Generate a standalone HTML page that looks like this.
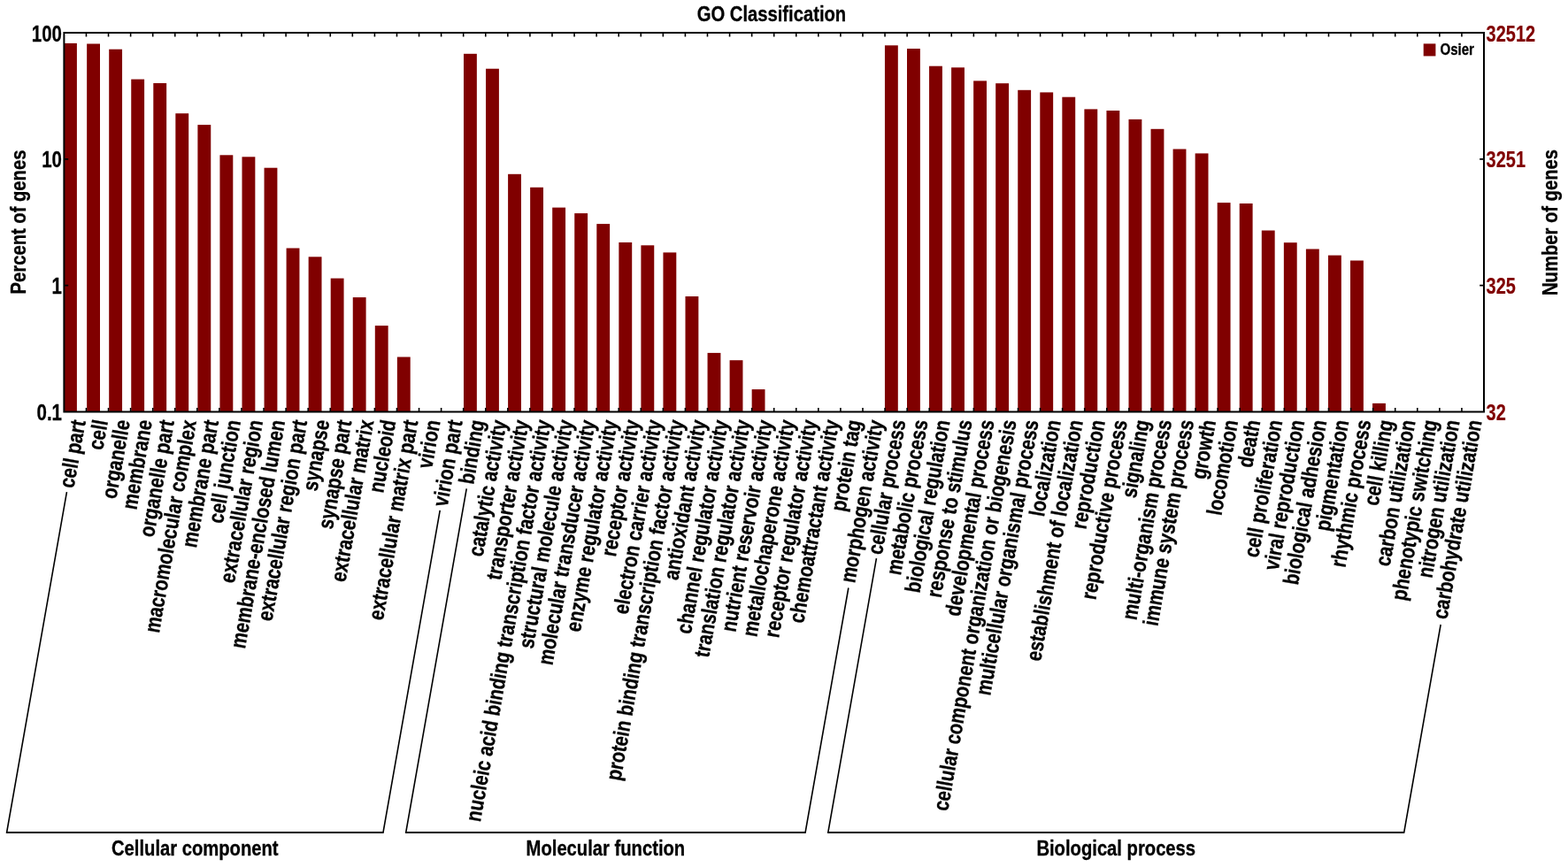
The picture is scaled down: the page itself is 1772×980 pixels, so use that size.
<!DOCTYPE html>
<html lang="en"><head><meta charset="utf-8"><title>GO Classification</title>
<style>
html,body{margin:0;padding:0;background:#fff;}
body{width:1772px;height:980px;overflow:hidden;}
svg{display:block;}
text{font-family:"Liberation Sans",sans-serif;font-weight:bold;fill:#000;}
.r{font-weight:normal;}
.i{font-style:italic;}
.m{fill:#800000;}
.ln{stroke:#000;fill:none;}
</style></head><body>
<svg width="1772" height="980" viewBox="0 0 1772 980">
<rect x="0" y="0" width="1772" height="980" fill="#fff"/>
<g fill="#800000">
<rect x="72.40" y="48.90" width="14.50" height="416.60"/>
<rect x="98.15" y="49.50" width="14.85" height="416.00"/>
<rect x="123.20" y="55.70" width="14.85" height="409.80"/>
<rect x="148.25" y="89.60" width="14.85" height="375.90"/>
<rect x="173.30" y="94.00" width="14.85" height="371.50"/>
<rect x="198.35" y="128.20" width="14.85" height="337.30"/>
<rect x="223.40" y="141.10" width="14.85" height="324.40"/>
<rect x="248.45" y="175.30" width="14.85" height="290.20"/>
<rect x="273.50" y="177.30" width="14.85" height="288.20"/>
<rect x="298.55" y="189.70" width="14.85" height="275.80"/>
<rect x="323.60" y="280.50" width="14.85" height="185.00"/>
<rect x="348.65" y="290.30" width="14.85" height="175.20"/>
<rect x="373.70" y="314.60" width="14.85" height="150.90"/>
<rect x="398.75" y="336.10" width="14.85" height="129.40"/>
<rect x="423.80" y="368.10" width="14.85" height="97.40"/>
<rect x="448.85" y="403.50" width="14.85" height="62.00"/>
<rect x="524.00" y="60.80" width="14.85" height="404.70"/>
<rect x="549.05" y="77.70" width="14.85" height="387.80"/>
<rect x="574.10" y="196.80" width="14.85" height="268.70"/>
<rect x="599.15" y="211.80" width="14.85" height="253.70"/>
<rect x="624.20" y="234.60" width="14.85" height="230.90"/>
<rect x="649.25" y="241.10" width="14.85" height="224.40"/>
<rect x="674.30" y="253.10" width="14.85" height="212.40"/>
<rect x="699.35" y="274.00" width="14.85" height="191.50"/>
<rect x="724.40" y="277.30" width="14.85" height="188.20"/>
<rect x="749.45" y="285.40" width="14.85" height="180.10"/>
<rect x="774.50" y="335.00" width="14.85" height="130.50"/>
<rect x="799.55" y="398.90" width="14.85" height="66.60"/>
<rect x="824.60" y="407.20" width="14.85" height="58.30"/>
<rect x="849.65" y="440.10" width="14.85" height="25.40"/>
<rect x="999.95" y="51.30" width="14.85" height="414.20"/>
<rect x="1025.00" y="55.00" width="14.85" height="410.50"/>
<rect x="1050.05" y="74.70" width="14.85" height="390.80"/>
<rect x="1075.10" y="76.30" width="14.85" height="389.20"/>
<rect x="1100.15" y="91.40" width="14.85" height="374.10"/>
<rect x="1125.20" y="94.20" width="14.85" height="371.30"/>
<rect x="1150.25" y="101.80" width="14.85" height="363.70"/>
<rect x="1175.30" y="104.40" width="14.85" height="361.10"/>
<rect x="1200.35" y="109.70" width="14.85" height="355.80"/>
<rect x="1225.40" y="123.40" width="14.85" height="342.10"/>
<rect x="1250.45" y="125.00" width="14.85" height="340.50"/>
<rect x="1275.50" y="134.90" width="14.85" height="330.60"/>
<rect x="1300.55" y="145.80" width="14.85" height="319.70"/>
<rect x="1325.60" y="168.50" width="14.85" height="297.00"/>
<rect x="1350.65" y="173.40" width="14.85" height="292.10"/>
<rect x="1375.70" y="229.10" width="14.85" height="236.40"/>
<rect x="1400.75" y="230.00" width="14.85" height="235.50"/>
<rect x="1425.80" y="260.50" width="14.85" height="205.00"/>
<rect x="1450.85" y="274.20" width="14.85" height="191.30"/>
<rect x="1475.90" y="281.50" width="14.85" height="184.00"/>
<rect x="1500.95" y="288.60" width="14.85" height="176.90"/>
<rect x="1526.00" y="294.50" width="14.85" height="171.00"/>
<rect x="1551.05" y="455.90" width="14.85" height="9.60"/>
</g>
<path class="ln" stroke-width="1.6" d="M97.47 37.00v4.6M97.47 465.50v-4.6M122.54 37.00v4.6M122.54 465.50v-4.6M147.62 37.00v4.6M147.62 465.50v-4.6M172.69 37.00v4.6M172.69 465.50v-4.6M197.76 37.00v4.6M197.76 465.50v-4.6M222.83 37.00v4.6M222.83 465.50v-4.6M247.90 37.00v4.6M247.90 465.50v-4.6M272.98 37.00v4.6M272.98 465.50v-4.6M298.05 37.00v4.6M298.05 465.50v-4.6M323.12 37.00v4.6M323.12 465.50v-4.6M348.19 37.00v4.6M348.19 465.50v-4.6M373.26 37.00v4.6M373.26 465.50v-4.6M398.33 37.00v4.6M398.33 465.50v-4.6M423.41 37.00v4.6M423.41 465.50v-4.6M448.48 37.00v4.6M448.48 465.50v-4.6M473.55 37.00v4.6M473.55 465.50v-4.6M498.62 37.00v4.6M498.62 465.50v-4.6M523.69 37.00v4.6M523.69 465.50v-4.6M548.77 37.00v4.6M548.77 465.50v-4.6M573.84 37.00v4.6M573.84 465.50v-4.6M598.91 37.00v4.6M598.91 465.50v-4.6M623.98 37.00v4.6M623.98 465.50v-4.6M649.05 37.00v4.6M649.05 465.50v-4.6M674.12 37.00v4.6M674.12 465.50v-4.6M699.20 37.00v4.6M699.20 465.50v-4.6M724.27 37.00v4.6M724.27 465.50v-4.6M749.34 37.00v4.6M749.34 465.50v-4.6M774.41 37.00v4.6M774.41 465.50v-4.6M799.48 37.00v4.6M799.48 465.50v-4.6M824.56 37.00v4.6M824.56 465.50v-4.6M849.63 37.00v4.6M849.63 465.50v-4.6M874.70 37.00v4.6M874.70 465.50v-4.6M899.77 37.00v4.6M899.77 465.50v-4.6M924.84 37.00v4.6M924.84 465.50v-4.6M949.92 37.00v4.6M949.92 465.50v-4.6M974.99 37.00v4.6M974.99 465.50v-4.6M1000.06 37.00v4.6M1000.06 465.50v-4.6M1025.13 37.00v4.6M1025.13 465.50v-4.6M1050.20 37.00v4.6M1050.20 465.50v-4.6M1075.28 37.00v4.6M1075.28 465.50v-4.6M1100.35 37.00v4.6M1100.35 465.50v-4.6M1125.42 37.00v4.6M1125.42 465.50v-4.6M1150.49 37.00v4.6M1150.49 465.50v-4.6M1175.56 37.00v4.6M1175.56 465.50v-4.6M1200.63 37.00v4.6M1200.63 465.50v-4.6M1225.71 37.00v4.6M1225.71 465.50v-4.6M1250.78 37.00v4.6M1250.78 465.50v-4.6M1275.85 37.00v4.6M1275.85 465.50v-4.6M1300.92 37.00v4.6M1300.92 465.50v-4.6M1325.99 37.00v4.6M1325.99 465.50v-4.6M1351.07 37.00v4.6M1351.07 465.50v-4.6M1376.14 37.00v4.6M1376.14 465.50v-4.6M1401.21 37.00v4.6M1401.21 465.50v-4.6M1426.28 37.00v4.6M1426.28 465.50v-4.6M1451.35 37.00v4.6M1451.35 465.50v-4.6M1476.42 37.00v4.6M1476.42 465.50v-4.6M1501.50 37.00v4.6M1501.50 465.50v-4.6M1526.57 37.00v4.6M1526.57 465.50v-4.6M1551.64 37.00v4.6M1551.64 465.50v-4.6M1576.71 37.00v4.6M1576.71 465.50v-4.6M1601.78 37.00v4.6M1601.78 465.50v-4.6M1626.86 37.00v4.6M1626.86 465.50v-4.6M1651.93 37.00v4.6M1651.93 465.50v-4.6M72.40 179.83h4.8M1677.00 179.83h-4.8M72.40 322.67h4.8M1677.00 322.67h-4.8"/>
<rect class="ln" x="72.40" y="37.00" width="1604.60" height="428.50" stroke-width="2"/>
<text transform="translate(872.00 24.00) scale(0.822 1)" font-size="24.6" text-anchor="middle" stroke="#000" stroke-width="0.35" stroke-linejoin="round">GO Classification</text>
<text transform="translate(70.00 47.10) scale(0.8 1)" font-size="25.6" text-anchor="end" class="e" stroke="#000" stroke-width="0.3" stroke-linejoin="round">100</text>
<text transform="translate(70.00 189.40) scale(0.8 1)" font-size="25.6" text-anchor="end" class="e" stroke="#000" stroke-width="0.3" stroke-linejoin="round">10</text>
<text transform="translate(70.00 331.80) scale(0.8 1)" font-size="25.6" text-anchor="end" class="e" stroke="#000" stroke-width="0.3" stroke-linejoin="round">1</text>
<text transform="translate(70.00 474.60) scale(0.8 1)" font-size="25.6" text-anchor="end" class="e" stroke="#000" stroke-width="0.3" stroke-linejoin="round">0.1</text>
<text transform="translate(1679.60 47.00) scale(0.78 1)" font-size="25.6" text-anchor="start" class="f m" stroke="#800000" stroke-width="0.2" stroke-linejoin="round">32512</text>
<text transform="translate(1679.60 189.10) scale(0.78 1)" font-size="25.6" text-anchor="start" class="f m" stroke="#800000" stroke-width="0.2" stroke-linejoin="round">3251</text>
<text transform="translate(1679.60 332.00) scale(0.78 1)" font-size="25.6" text-anchor="start" class="f m" stroke="#800000" stroke-width="0.2" stroke-linejoin="round">325</text>
<text transform="translate(1679.60 475.00) scale(0.78 1)" font-size="25.6" text-anchor="start" class="f m" stroke="#800000" stroke-width="0.2" stroke-linejoin="round">32</text>
<text transform="translate(29.30 251.00) rotate(-90) scale(0.822 1)" font-size="24.6" text-anchor="middle" stroke="#000" stroke-width="0.35" stroke-linejoin="round">Percent of genes</text>
<text transform="translate(1759.60 251.50) rotate(-90) scale(0.822 1)" font-size="24.6" text-anchor="middle" stroke="#000" stroke-width="0.35" stroke-linejoin="round">Number of genes</text>
<rect x="1608.7" y="49.4" width="13.7" height="14" fill="#800000"/>
<text transform="translate(1627.50 62.00) scale(0.822 1)" font-size="18.3" text-anchor="start" stroke="#000" stroke-width="0.35" stroke-linejoin="round">Osier</text>
<text transform="translate(96.83 476.30) rotate(-80) scale(0.822 1)" font-size="24.6" text-anchor="end" stroke="#000" stroke-width="0.35" stroke-linejoin="round">cell part</text>
<text transform="translate(121.88 476.30) rotate(-80) scale(0.822 1)" font-size="24.6" text-anchor="end" stroke="#000" stroke-width="0.35" stroke-linejoin="round">cell</text>
<text transform="translate(146.93 476.30) rotate(-80) scale(0.822 1)" font-size="24.6" text-anchor="end" stroke="#000" stroke-width="0.35" stroke-linejoin="round">organelle</text>
<text transform="translate(171.97 476.30) rotate(-80) scale(0.822 1)" font-size="24.6" text-anchor="end" stroke="#000" stroke-width="0.35" stroke-linejoin="round">membrane</text>
<text transform="translate(197.02 476.30) rotate(-80) scale(0.822 1)" font-size="24.6" text-anchor="end" stroke="#000" stroke-width="0.35" stroke-linejoin="round">organelle part</text>
<text transform="translate(222.06 476.30) rotate(-80) scale(0.822 1)" font-size="24.6" text-anchor="end" stroke="#000" stroke-width="0.35" stroke-linejoin="round">macromolecular complex</text>
<text transform="translate(247.11 476.30) rotate(-80) scale(0.822 1)" font-size="24.6" text-anchor="end" stroke="#000" stroke-width="0.35" stroke-linejoin="round">membrane part</text>
<text transform="translate(272.16 476.30) rotate(-80) scale(0.822 1)" font-size="24.6" text-anchor="end" stroke="#000" stroke-width="0.35" stroke-linejoin="round">cell junction</text>
<text transform="translate(297.20 476.30) rotate(-80) scale(0.822 1)" font-size="24.6" text-anchor="end" stroke="#000" stroke-width="0.35" stroke-linejoin="round">extracellular region</text>
<text transform="translate(322.25 476.30) rotate(-80) scale(0.822 1)" font-size="24.6" text-anchor="end" stroke="#000" stroke-width="0.35" stroke-linejoin="round">membrane-enclosed lumen</text>
<text transform="translate(347.29 476.30) rotate(-80) scale(0.822 1)" font-size="24.6" text-anchor="end" stroke="#000" stroke-width="0.35" stroke-linejoin="round">extracellular region part</text>
<text transform="translate(372.34 476.30) rotate(-80) scale(0.822 1)" font-size="24.6" text-anchor="end" stroke="#000" stroke-width="0.35" stroke-linejoin="round">synapse</text>
<text transform="translate(397.39 476.30) rotate(-80) scale(0.822 1)" font-size="24.6" text-anchor="end" stroke="#000" stroke-width="0.35" stroke-linejoin="round">synapse part</text>
<text transform="translate(422.43 476.30) rotate(-80) scale(0.822 1)" font-size="24.6" text-anchor="end" stroke="#000" stroke-width="0.35" stroke-linejoin="round">extracellular matrix</text>
<text transform="translate(447.48 476.30) rotate(-80) scale(0.822 1)" font-size="24.6" text-anchor="end" stroke="#000" stroke-width="0.35" stroke-linejoin="round">nucleoid</text>
<text transform="translate(472.52 476.30) rotate(-80) scale(0.822 1)" font-size="24.6" text-anchor="end" stroke="#000" stroke-width="0.35" stroke-linejoin="round">extracellular matrix part</text>
<text transform="translate(497.57 476.30) rotate(-80) scale(0.822 1)" font-size="24.6" text-anchor="end" stroke="#000" stroke-width="0.35" stroke-linejoin="round">virion</text>
<text transform="translate(522.62 476.30) rotate(-80) scale(0.822 1)" font-size="24.6" text-anchor="end" stroke="#000" stroke-width="0.35" stroke-linejoin="round">virion part</text>
<text transform="translate(547.66 476.30) rotate(-80) scale(0.822 1)" font-size="24.6" text-anchor="end" stroke="#000" stroke-width="0.35" stroke-linejoin="round">binding</text>
<text transform="translate(572.71 476.30) rotate(-80) scale(0.822 1)" font-size="24.6" text-anchor="end" stroke="#000" stroke-width="0.35" stroke-linejoin="round">catalytic activity</text>
<text transform="translate(597.75 476.30) rotate(-80) scale(0.822 1)" font-size="24.6" text-anchor="end" stroke="#000" stroke-width="0.35" stroke-linejoin="round">transporter activity</text>
<text transform="translate(622.80 476.30) rotate(-80) scale(0.822 1)" font-size="24.6" text-anchor="end" stroke="#000" stroke-width="0.35" stroke-linejoin="round">nucleic acid binding transcription factor activity</text>
<text transform="translate(647.85 476.30) rotate(-80) scale(0.822 1)" font-size="24.6" text-anchor="end" stroke="#000" stroke-width="0.35" stroke-linejoin="round">structural molecule activity</text>
<text transform="translate(672.89 476.30) rotate(-80) scale(0.822 1)" font-size="24.6" text-anchor="end" stroke="#000" stroke-width="0.35" stroke-linejoin="round">molecular transducer activity</text>
<text transform="translate(697.94 476.30) rotate(-80) scale(0.822 1)" font-size="24.6" text-anchor="end" stroke="#000" stroke-width="0.35" stroke-linejoin="round">enzyme regulator activity</text>
<text transform="translate(722.98 476.30) rotate(-80) scale(0.822 1)" font-size="24.6" text-anchor="end" stroke="#000" stroke-width="0.35" stroke-linejoin="round">receptor activity</text>
<text transform="translate(748.03 476.30) rotate(-80) scale(0.822 1)" font-size="24.6" text-anchor="end" stroke="#000" stroke-width="0.35" stroke-linejoin="round">electron carrier activity</text>
<text transform="translate(773.08 476.30) rotate(-80) scale(0.822 1)" font-size="24.6" text-anchor="end" stroke="#000" stroke-width="0.35" stroke-linejoin="round">protein binding transcription factor activity</text>
<text transform="translate(798.12 476.30) rotate(-80) scale(0.822 1)" font-size="24.6" text-anchor="end" stroke="#000" stroke-width="0.35" stroke-linejoin="round">antioxidant activity</text>
<text transform="translate(823.17 476.30) rotate(-80) scale(0.822 1)" font-size="24.6" text-anchor="end" stroke="#000" stroke-width="0.35" stroke-linejoin="round">channel regulator activity</text>
<text transform="translate(848.21 476.30) rotate(-80) scale(0.822 1)" font-size="24.6" text-anchor="end" stroke="#000" stroke-width="0.35" stroke-linejoin="round">translation regulator activity</text>
<text transform="translate(873.26 476.30) rotate(-80) scale(0.822 1)" font-size="24.6" text-anchor="end" stroke="#000" stroke-width="0.35" stroke-linejoin="round">nutrient reservoir activity</text>
<text transform="translate(898.31 476.30) rotate(-80) scale(0.822 1)" font-size="24.6" text-anchor="end" stroke="#000" stroke-width="0.35" stroke-linejoin="round">metallochaperone activity</text>
<text transform="translate(923.35 476.30) rotate(-80) scale(0.822 1)" font-size="24.6" text-anchor="end" stroke="#000" stroke-width="0.35" stroke-linejoin="round">receptor regulator activity</text>
<text transform="translate(948.40 476.30) rotate(-80) scale(0.822 1)" font-size="24.6" text-anchor="end" stroke="#000" stroke-width="0.35" stroke-linejoin="round">chemoattractant activity</text>
<text transform="translate(973.44 476.30) rotate(-80) scale(0.822 1)" font-size="24.6" text-anchor="end" stroke="#000" stroke-width="0.35" stroke-linejoin="round">protein tag</text>
<text transform="translate(998.49 476.30) rotate(-80) scale(0.822 1)" font-size="24.6" text-anchor="end" stroke="#000" stroke-width="0.35" stroke-linejoin="round">morphogen activity</text>
<text transform="translate(1023.54 476.30) rotate(-80) scale(0.822 1)" font-size="24.6" text-anchor="end" stroke="#000" stroke-width="0.35" stroke-linejoin="round">cellular process</text>
<text transform="translate(1048.58 476.30) rotate(-80) scale(0.822 1)" font-size="24.6" text-anchor="end" stroke="#000" stroke-width="0.35" stroke-linejoin="round">metabolic process</text>
<text transform="translate(1073.63 476.30) rotate(-80) scale(0.822 1)" font-size="24.6" text-anchor="end" stroke="#000" stroke-width="0.35" stroke-linejoin="round">biological regulation</text>
<text transform="translate(1098.67 476.30) rotate(-80) scale(0.822 1)" font-size="24.6" text-anchor="end" stroke="#000" stroke-width="0.35" stroke-linejoin="round">response to stimulus</text>
<text transform="translate(1123.72 476.30) rotate(-80) scale(0.822 1)" font-size="24.6" text-anchor="end" stroke="#000" stroke-width="0.35" stroke-linejoin="round">developmental process</text>
<text transform="translate(1148.77 476.30) rotate(-80) scale(0.822 1)" font-size="24.6" text-anchor="end" stroke="#000" stroke-width="0.35" stroke-linejoin="round">cellular component organization or biogenesis</text>
<text transform="translate(1173.81 476.30) rotate(-80) scale(0.822 1)" font-size="24.6" text-anchor="end" stroke="#000" stroke-width="0.35" stroke-linejoin="round">multicellular organismal process</text>
<text transform="translate(1198.86 476.30) rotate(-80) scale(0.822 1)" font-size="24.6" text-anchor="end" stroke="#000" stroke-width="0.35" stroke-linejoin="round">localization</text>
<text transform="translate(1223.90 476.30) rotate(-80) scale(0.822 1)" font-size="24.6" text-anchor="end" stroke="#000" stroke-width="0.35" stroke-linejoin="round">establishment of localization</text>
<text transform="translate(1248.95 476.30) rotate(-80) scale(0.822 1)" font-size="24.6" text-anchor="end" stroke="#000" stroke-width="0.35" stroke-linejoin="round">reproduction</text>
<text transform="translate(1274.00 476.30) rotate(-80) scale(0.822 1)" font-size="24.6" text-anchor="end" stroke="#000" stroke-width="0.35" stroke-linejoin="round">reproductive process</text>
<text transform="translate(1299.04 476.30) rotate(-80) scale(0.822 1)" font-size="24.6" text-anchor="end" stroke="#000" stroke-width="0.35" stroke-linejoin="round">signaling</text>
<text transform="translate(1324.09 476.30) rotate(-80) scale(0.822 1)" font-size="24.6" text-anchor="end" stroke="#000" stroke-width="0.35" stroke-linejoin="round">multi-organism process</text>
<text transform="translate(1349.13 476.30) rotate(-80) scale(0.822 1)" font-size="24.6" text-anchor="end" stroke="#000" stroke-width="0.35" stroke-linejoin="round">immune system process</text>
<text transform="translate(1374.18 476.30) rotate(-80) scale(0.822 1)" font-size="24.6" text-anchor="end" stroke="#000" stroke-width="0.35" stroke-linejoin="round">growth</text>
<text transform="translate(1399.23 476.30) rotate(-80) scale(0.822 1)" font-size="24.6" text-anchor="end" stroke="#000" stroke-width="0.35" stroke-linejoin="round">locomotion</text>
<text transform="translate(1424.27 476.30) rotate(-80) scale(0.822 1)" font-size="24.6" text-anchor="end" stroke="#000" stroke-width="0.35" stroke-linejoin="round">death</text>
<text transform="translate(1449.32 476.30) rotate(-80) scale(0.822 1)" font-size="24.6" text-anchor="end" stroke="#000" stroke-width="0.35" stroke-linejoin="round">cell proliferation</text>
<text transform="translate(1474.36 476.30) rotate(-80) scale(0.822 1)" font-size="24.6" text-anchor="end" stroke="#000" stroke-width="0.35" stroke-linejoin="round">viral reproduction</text>
<text transform="translate(1499.41 476.30) rotate(-80) scale(0.822 1)" font-size="24.6" text-anchor="end" stroke="#000" stroke-width="0.35" stroke-linejoin="round">biological adhesion</text>
<text transform="translate(1524.46 476.30) rotate(-80) scale(0.822 1)" font-size="24.6" text-anchor="end" stroke="#000" stroke-width="0.35" stroke-linejoin="round">pigmentation</text>
<text transform="translate(1549.50 476.30) rotate(-80) scale(0.822 1)" font-size="24.6" text-anchor="end" stroke="#000" stroke-width="0.35" stroke-linejoin="round">rhythmic process</text>
<text transform="translate(1574.55 476.30) rotate(-80) scale(0.822 1)" font-size="24.6" text-anchor="end" stroke="#000" stroke-width="0.35" stroke-linejoin="round">cell killing</text>
<text transform="translate(1599.59 476.30) rotate(-80) scale(0.822 1)" font-size="24.6" text-anchor="end" stroke="#000" stroke-width="0.35" stroke-linejoin="round">carbon utilization</text>
<text transform="translate(1624.64 476.30) rotate(-80) scale(0.822 1)" font-size="24.6" text-anchor="end" stroke="#000" stroke-width="0.35" stroke-linejoin="round">phenotypic switching</text>
<text transform="translate(1649.69 476.30) rotate(-80) scale(0.822 1)" font-size="24.6" text-anchor="end" stroke="#000" stroke-width="0.35" stroke-linejoin="round">nitrogen utilization</text>
<text transform="translate(1674.73 476.30) rotate(-80) scale(0.822 1)" font-size="24.6" text-anchor="end" stroke="#000" stroke-width="0.35" stroke-linejoin="round">carbohydrate utilization</text>
<path class="ln" stroke-width="1.6" stroke-linejoin="miter" d="M75.45 556.20L7.60 941.00L433.00 941.00L497.22 576.80"/>
<path class="ln" stroke-width="2" d="M7.30 941.00H433.30"/>
<text transform="translate(220.30 967.40) scale(0.822 1)" font-size="24.6" text-anchor="middle" stroke="#000" stroke-width="0.35" stroke-linejoin="round">Cellular component</text>
<path class="ln" stroke-width="1.6" stroke-linejoin="miter" d="M527.24 552.30L458.70 941.00L910.10 941.00L958.85 664.50"/>
<path class="ln" stroke-width="2" d="M458.40 941.00H910.40"/>
<text transform="translate(684.40 967.40) scale(0.822 1)" font-size="24.6" text-anchor="middle" stroke="#000" stroke-width="0.35" stroke-linejoin="round">Molecular function</text>
<path class="ln" stroke-width="1.6" stroke-linejoin="miter" d="M990.44 631.10L935.80 941.00L1586.70 941.00L1628.14 706.00"/>
<path class="ln" stroke-width="2" d="M935.50 941.00H1587.00"/>
<text transform="translate(1261.25 967.40) scale(0.822 1)" font-size="24.6" text-anchor="middle" stroke="#000" stroke-width="0.35" stroke-linejoin="round">Biological process</text>
</svg></body></html>
